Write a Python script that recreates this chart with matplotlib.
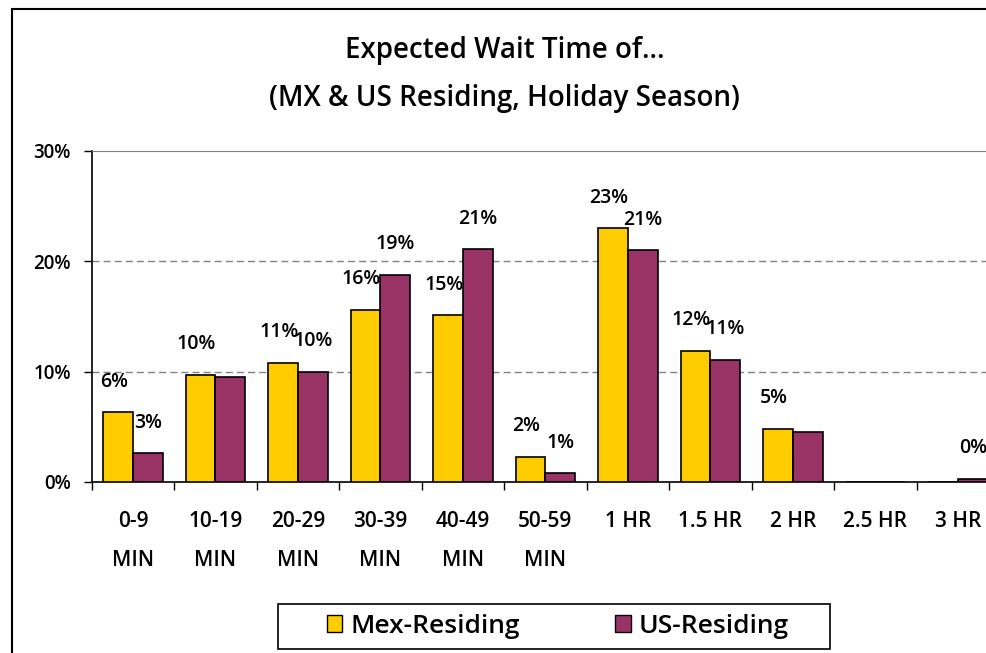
import numpy as np
import matplotlib
matplotlib.use('Agg')
from matplotlib import pyplot as plt
from matplotlib.patches import Rectangle, Patch

plt.rcParams['font.family'] = ['Open Sans', 'DejaVu Sans']
plt.rcParams['font.weight'] = 'semibold'

categories = ['0-9\nMIN', '10-19\nMIN', '20-29\nMIN', '30-39\nMIN', '40-49\nMIN',
              '50-59\nMIN', '1 HR', '1.5 HR', '2 HR', '2.5 HR', '3 HR']
mex = [6.3, 9.7, 10.8, 15.6, 15.1, 2.3, 23.0, 11.9, 4.8, 0.0, 0.0]
us = [2.6, 9.5, 10.0, 18.8, 21.1, 0.8, 21.0, 11.1, 4.5, 0.0, 0.3]
# which data labels Excel actually shows
mex_shown = [1, 1, 1, 1, 1, 1, 1, 1, 1, 0, 0]
us_shown = [1, 0, 1, 1, 1, 1, 1, 1, 0, 0, 1]
yticks = [0, 10, 20, 30]

mex_color = '#FFCC00'
us_color = '#993366'

fig = plt.figure(figsize=(9.87, 6.53), dpi=100)
ax = fig.add_axes([0.0929, 0.2619, 0.9194, 0.5069])

x = np.arange(len(categories))
w = 0.36
b1 = ax.bar(x - w / 2, mex, w, color=mex_color, edgecolor='black', linewidth=1.2, zorder=3)
b2 = ax.bar(x + w / 2, us, w, color=us_color, edgecolor='black', linewidth=1.2, zorder=3)

# mex labels nudged left a little so neighbours do not collide
for bars, vals, shown, dx in [(b1, mex, mex_shown, -3), (b2, us, us_shown, 0)]:
    for rect, v, s in zip(bars, vals, shown):
        if s:
            ax.annotate(f'{v:.0f}%', (rect.get_x() + rect.get_width() / 2, v),
                        xytext=(dx, 22), textcoords='offset points',
                        ha='center', va='center', fontsize=14, zorder=4)

ax.set_xlim(-0.5, len(categories) - 0.5)
ax.set_ylim(0, 30)
ax.set_yticks(yticks)
ax.set_yticklabels([f'{t}%' for t in yticks], fontsize=13.5)
ax.set_xticks(x)
ax.set_xticklabels(categories, fontsize=15, linespacing=2.1, va='top')
ax.set_xticks(np.arange(len(categories) + 1) - 0.5, minor=True)
ax.tick_params(axis='x', which='major', length=0, pad=21)
ax.tick_params(axis='x', which='minor', length=6, direction='out', width=1)
ax.tick_params(axis='y', length=6, width=1, pad=9)

for t in yticks[1:-1]:
    ax.axhline(t, color='#808080', lw=1, linestyle=(0, (5, 3)), zorder=1)

ax.spines['right'].set_visible(False)
ax.spines['top'].set_color('#808080')
ax.spines['left'].set_linewidth(1.2)
ax.spines['bottom'].set_linewidth(1.2)

fig.text(0.511, 0.886, 'Expected Wait Time of…\n(MX & US Residing, Holiday Season)',
         ha='center', va='center', fontsize=20, fontweight='semibold', linespacing=1.84)

# legend box
fig.add_artist(Rectangle((278 / 987, 1 - 649 / 653), 552 / 987, 45 / 653,
                         transform=fig.transFigure, fill=False, lw=1.2, ec='black'))
handles = [Patch(facecolor=mex_color, edgecolor='black', label='Mex-Residing'),
           Patch(facecolor=us_color, edgecolor='black', label='US-Residing')]
fig.legend(handles=handles, loc='center', bbox_to_anchor=(0.565, 0.041), ncol=2,
           frameon=False, fontsize=19, handlelength=0.6, handleheight=0.6,
           handletextpad=0.3, columnspacing=3.6)

# chart border (cropped on right and bottom)
fig.add_artist(Rectangle((12 / 987, -0.1), 1.2, 1.1 - 9.5 / 653,
                         transform=fig.transFigure, fill=False, lw=1.5, ec='black'))

fig.savefig('out.png', dpi=100)
